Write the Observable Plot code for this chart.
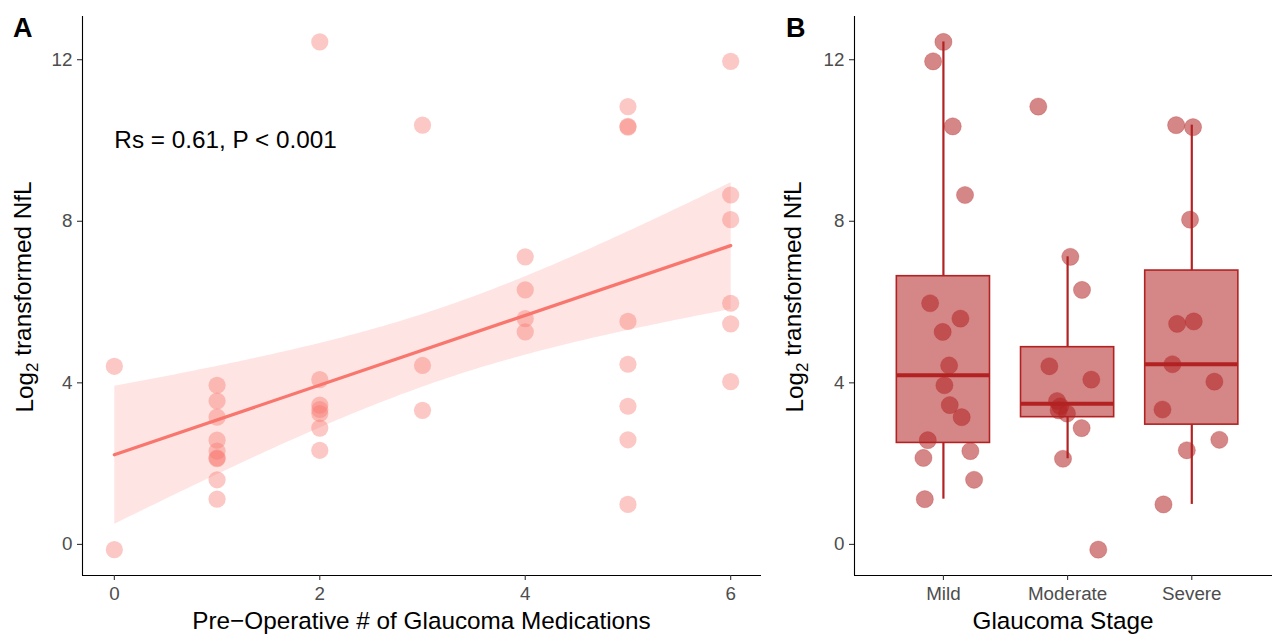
<!DOCTYPE html>
<html>
<head>
<meta charset="utf-8">
<script src="https://cdn.jsdelivr.net/npm/d3@7"></script>
<script src="https://cdn.jsdelivr.net/npm/@observablehq/plot@0.6"></script>
<style>
  html, body { margin: 0; padding: 0; background: #fff; overflow: hidden; }
  #wrap { position: relative; width: 1273px; height: 635px; font-family: "Liberation Sans", Arial, sans-serif; }
  #wrap svg { position: absolute; top: 0; }
</style>
</head>
<body>
<div id="wrap"></div>
<script>
// ---------- Panel A data ----------
const meds = [0,0, 1,1,1,1,1,1,1,1,1, 2,2,2,2,2,2,2, 3,3,3, 4,4,4,4, 5,5,5,5,5,5,5,5, 6,6,6,6,6,6];
const nflA = [4.41,-0.13,
  3.94,3.55,3.15,2.58,2.31,2.14,2.12,1.60,1.12,
  12.44,4.08,3.45,3.34,3.24,2.88,2.33,
  10.38,4.43,3.32,
  7.12,6.30,5.59,5.26,
  10.84,10.35,10.33,5.52,4.46,3.42,2.59,0.99,
  11.96,8.65,8.04,5.97,5.46,4.03];
const xTicksA = [0, 2, 4, 6];
const yTicks = [0, 4, 8, 12];
const annoX = [0];
const annoY = [10];
const annoText = ["Rs = 0.61, P < 0.001"];

// ---------- Panel B data ----------
const stageNames = ["Mild", "Moderate", "Severe"];
const bStage = [1,1,1,1,1,1,1,1,1,1,1,1,1,1,1,1, 2,2,2,2,2,2,2,2,2,2,2,2, 3,3,3,3,3,3,3,3,3,3,3];
const bValue = [12.44,11.96,10.35,8.65,5.97,5.59,5.26,4.43,3.94,3.45,3.15,2.58,2.31,2.14,1.60,1.12,
  10.84,7.12,6.30,4.41,4.08,3.55,3.42,3.32,3.24,2.88,2.12,-0.13,
  10.38,10.33,8.04,5.52,5.46,4.46,4.03,3.34,2.59,2.33,0.99];
const bJitter = [0,-0.083,0.075,0.174,-0.107,0.137,-0.006,0.046,0.008,0.051,0.147,-0.126,0.217,-0.161,0.247,-0.150,
  -0.236,0.022,0.116,-0.147,0.191,-0.085,-0.059,-0.072,-0.005,0.113,-0.037,0.247,
  -0.126,0.01,-0.014,0.016,-0.118,-0.156,0.182,-0.236,0.222,-0.04,-0.228];

// ---------- build tables ----------
const dataA = meds.map((m, i) => ({meds: m, nfl: nflA[i]}));
const dataB = bStage.map((s, i) => ({stage: s, pos: s + bJitter[i], nfl: bValue[i]}));
const boxHalf = 0.375;
const stats = stageNames.map((name, k) => {
  const vals = dataB.filter(d => d.stage === k + 1).map(d => d.nfl).sort(d3.ascending);
  const q1 = d3.quantile(vals, 0.25), q3 = d3.quantile(vals, 0.75), med = d3.quantile(vals, 0.5);
  const iqr = q3 - q1;
  const hi = d3.max(vals.filter(v => v <= q3 + 1.5 * iqr));
  const lo = d3.min(vals.filter(v => v >= q1 - 1.5 * iqr));
  return {i: k + 1, x1: k + 1 - boxHalf, x2: k + 1 + boxHalf, q1, q3, med, hi, lo};
});

const yDomain = [-0.77, 13.07];
const xDomainA = [-0.31, 6.3];
const xDomainB = [0.284, 3.65];
const font = "'Liberation Sans', Arial, sans-serif";
const tickFont = 18.8;
const titleFont = 24.3;

const axisStyle = {tickSize: 5, fontSize: tickFont, fill: "#4D4D4D", stroke: "#333333", strokeWidth: 1.1, label: null};
const plotStyle = {fontFamily: font, fontSize: tickFont + "px", background: "transparent", overflow: "visible"};

// ---------- Panel A ----------
const plotA = Plot.plot({
  width: 770, height: 635,
  marginLeft: 82, marginRight: 9, marginTop: 16, marginBottom: 60,
  style: plotStyle,
  x: {domain: xDomainA},
  y: {domain: yDomain},
  marks: [
    Plot.dot(dataA, {x: "meds", y: "nfl", r: 8.6, fill: "#F8766D", fillOpacity: 0.4, stroke: "none"}),
    Plot.linearRegressionY(dataA, {x: "meds", y: "nfl", stroke: "#F8766D", fill: "#F8766D", fillOpacity: 0.2, strokeWidth: 3.3, ci: 0.95}),
    Plot.text(annoText, {x: annoX, y: annoY, text: d => d, textAnchor: "start", fontSize: titleFont, fill: "black"}),
    Plot.ruleX([xDomainA[0]], {stroke: "black", strokeWidth: 1.1}),
    Plot.ruleY([yDomain[0]], {stroke: "black", strokeWidth: 1.1}),
    Plot.axisX({...axisStyle, ticks: xTicksA, tickFormat: d3.format("d"), tickPadding: 6}),
    Plot.axisY({...axisStyle, ticks: yTicks, tickFormat: d3.format("d"), tickPadding: 5})
  ]
});
plotA.style.left = "0px";

// ---------- Panel B ----------
const plotB = Plot.plot({
  width: 503, height: 635,
  marginLeft: 84, marginRight: 1, marginTop: 16, marginBottom: 60,
  style: plotStyle,
  x: {domain: xDomainB},
  y: {domain: yDomain},
  marks: [
    Plot.dot(dataB, {x: "pos", y: "nfl", r: 8.6, fill: "#B22222", fillOpacity: 0.55, stroke: "#B22222", strokeOpacity: 0.25, strokeWidth: 1}),
    Plot.ruleX(stats, {x: "i", y1: "q3", y2: "hi", stroke: "#B22222", strokeWidth: 2.2}),
    Plot.ruleX(stats, {x: "i", y1: "lo", y2: "q1", stroke: "#B22222", strokeWidth: 2.2}),
    Plot.rect(stats, {x1: "x1", x2: "x2", y1: "q1", y2: "q3", fill: "#B22222", fillOpacity: 0.55, stroke: "#B22222", strokeWidth: 1.6}),
    Plot.ruleY(stats, {y: "med", x1: "x1", x2: "x2", stroke: "#B22222", strokeWidth: 4}),
    Plot.ruleX([xDomainB[0]], {stroke: "black", strokeWidth: 1.1}),
    Plot.ruleY([yDomain[0]], {stroke: "black", strokeWidth: 1.1}),
    Plot.axisX({...axisStyle, ticks: [1, 2, 3], tickFormat: i => stageNames[i - 1], tickPadding: 6}),
    Plot.axisY({...axisStyle, ticks: yTicks, tickFormat: d3.format("d"), tickPadding: 5})
  ]
});
plotB.style.left = "770px";

const wrap = document.getElementById("wrap");
wrap.appendChild(plotA);
wrap.appendChild(plotB);

// ---------- titles ----------
function addTitles(svg, xTitle, xCenter, yBaseline, panel, panelX) {
  const s = d3.select(svg);
  s.append("text").attr("x", xCenter).attr("y", 629).attr("text-anchor", "middle")
    .attr("font-size", titleFont).attr("font-family", font).attr("fill", "black").text(xTitle);
  const yt = s.append("text").attr("transform", `translate(${yBaseline},297) rotate(-90)`)
    .attr("text-anchor", "middle").attr("font-size", titleFont).attr("font-family", font).attr("fill", "black");
  yt.append("tspan").text("Log");
  yt.append("tspan").attr("font-size", titleFont * 0.7).attr("dy", "0.3em").text("2");
  yt.append("tspan").attr("dy", "-0.3em").text(" transformed NfL");
  s.append("text").attr("x", panelX).attr("y", 37).attr("text-anchor", "start").attr("font-size", 27).attr("font-weight", "bold")
    .attr("font-family", font).attr("fill", "black").text(panel);
}
addTitles(plotA, "Pre\u2212Operative # of Glaucoma Medications", 421.5, 33, "A", 13);
addTitles(plotB, "Glaucoma Stage", 293, 33, "B", 16);
</script>
</body>
</html>
